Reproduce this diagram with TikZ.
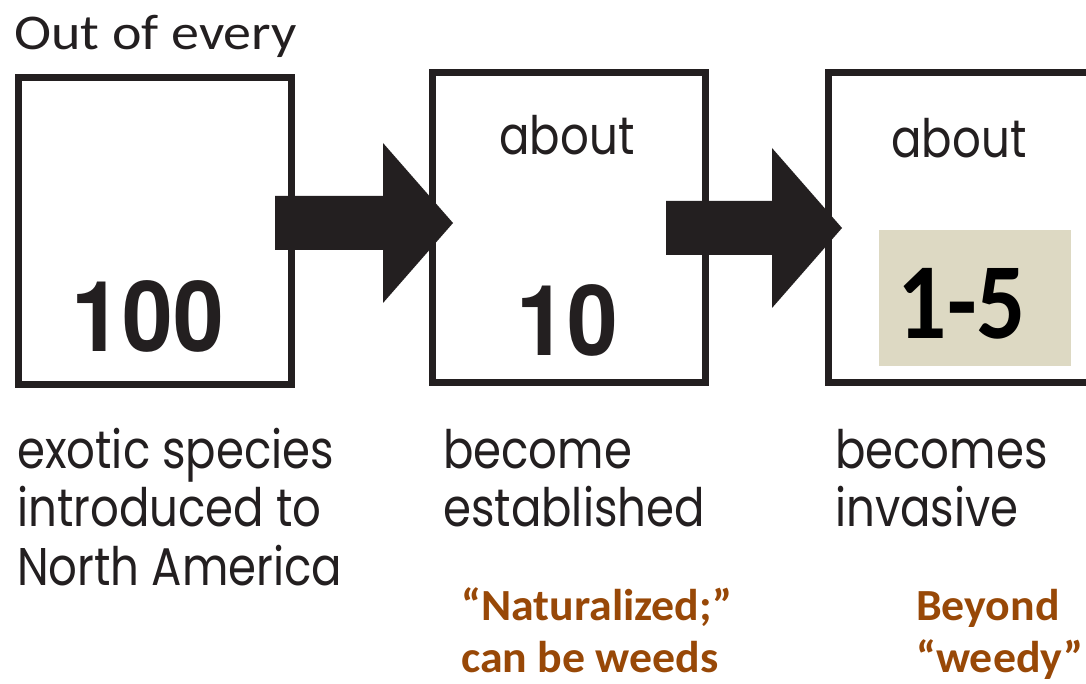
\documentclass[tikz,border=0pt]{standalone}
\usepackage{fontspec}
\setmainfont{Carlito}
\newfontfamily\geo[FakeStretch=0.85]{Poppins}
\newfontfamily\helv[FakeStretch=0.93]{TeX Gyre Heros}
\newfontfamily\wideCarlito[FakeStretch=1.12]{Carlito}
\newfontfamily\noteCarlito[FakeStretch=1.03]{Carlito}
\newfontfamily\narrowCarlito[FakeStretch=0.9]{Carlito}
\usetikzlibrary{calc}
\definecolor{ink}{HTML}{231F20}
\definecolor{tanfill}{HTML}{DDD9C3}
\definecolor{brownish}{HTML}{984807}
\newcommand\fatarrow[2]{\fill[ink] let \p1=(#1), \p2=(#2) in
  (\x1,\y1+27pt) -- (\x2-70pt,\y1+27pt) -- (\x2-70pt,\y2+80pt) -- (\x2,\y2)
  -- (\x2-70pt,\y2-80pt) -- (\x2-70pt,\y1-27pt) -- (\x1,\y1-27pt) -- cycle;}
\begin{document}
\begin{tikzpicture}[x=1pt,y=-1pt,
  stagebox/.style={draw=ink, line width=7pt, inner sep=0pt, outer sep=0pt, fill=white},
  geotext/.style={text=ink, font=\geo\fontsize{53}{58.5}\selectfont, inner sep=0pt, align=left},
  bignum/.style={text=ink, font=\helv\bfseries\fontsize{98}{100}\selectfont, inner sep=0pt},
  notetext/.style={text=brownish, font=\noteCarlito\bfseries\fontsize{44.5}{52}\selectfont, inner sep=0pt, align=left}]
\useasboundingbox (0,0) rectangle (1086,684);
\clip (0,0) rectangle (1086,684);
\fill[white] (0,0) rectangle (1086,684);
% boxes
\node[stagebox, minimum width=272.5pt, minimum height=306pt] (b1) at (154.75,231) {};
\node[stagebox, minimum width=273pt, minimum height=309pt] (b2) at (568.5,227.5) {};
\node[stagebox, minimum width=273pt, minimum height=309.5pt] (b3) at (964.5,227.25) {};
% arrows
\coordinate (a1s) at ($(b1.east)+(-16,-8)$);
\coordinate (a1t) at ($(b2.west)+(21,-4.5)$);
\coordinate (a2s) at ($(b2.east)+(-39,0.5)$);
\coordinate (a2t) at ($(b3.west)+(14,0.75)$);
\fatarrow{a1s}{a1t}
\fatarrow{a2s}{a2t}
% texts
\node[anchor=base west, text=ink, font=\wideCarlito\fontsize{50}{52}\selectfont, inner sep=0pt] (out) at (14,50) {Out of every};
\node[bignum, anchor=base] (n100) at (148,352) {100};
\node[geotext, anchor=base] (ab2) at (567,155) {about};
\node[bignum, anchor=base] (n10) at (567,355) {10};
\node[geotext, anchor=base] (ab3) at (959,158) {about};
\node[fill=tanfill, minimum width=192pt, minimum height=136pt, inner sep=0pt] (tanbox) at (975,298) {};
\node[anchor=base, text=black, font=\narrowCarlito\bfseries\fontsize{108}{110}\selectfont, inner sep=0pt] (n15) at (962,338) {1-5};
% multi-line nodes: base anchor is on the last line
\node[geotext, anchor=base west] (lab1) at (17,585) {exotic species\\introduced to\\North America};
\node[geotext, anchor=base west] (lab2) at (443,526.5) {become\\established};
\node[geotext, anchor=base west] (lab3) at (835,526.5) {becomes\\invasive};
\node[notetext, anchor=base west] (note2) at (461,672) {“Naturalized;”\\can be weeds};
\node[notetext, anchor=base west] (note3) at (916,672) {Beyond\\“weedy”};
\end{tikzpicture}
\end{document}
